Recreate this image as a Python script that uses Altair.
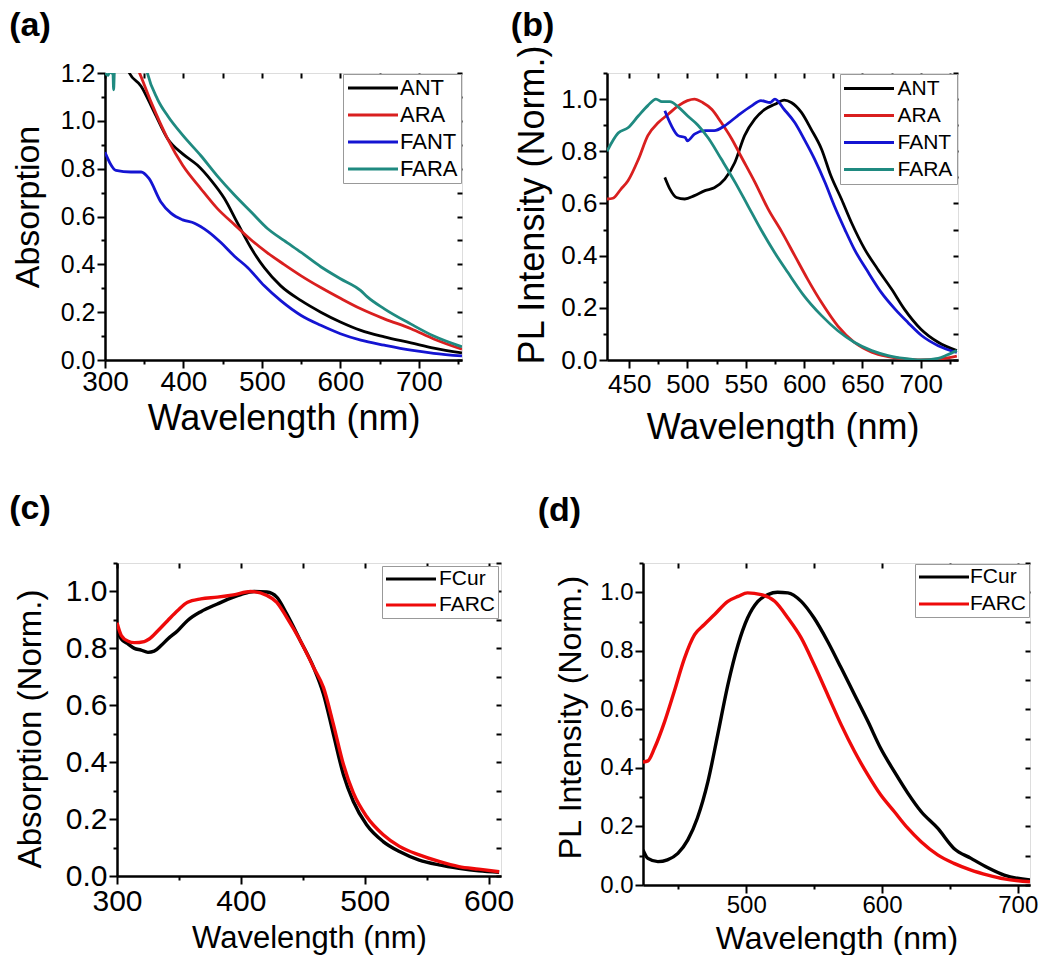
import altair as alt
import pandas as pd

FONT = "Liberation Sans"

# ---------------- Panel (a): Absorption ----------------
a_ant_x = [320, 331, 346, 363, 380, 399, 418, 435, 452, 469, 486, 503, 524, 550, 575, 600, 626, 656, 690, 719, 755]
a_ant_y = [1.3, 1.2, 1.145, 1.034, 0.924, 0.862, 0.814, 0.752, 0.676, 0.572, 0.469, 0.386, 0.31, 0.248, 0.2, 0.159, 0.124, 0.097, 0.072, 0.05, 0.03]
a_ara_x = [330, 344, 359, 380, 399, 422, 443, 465, 486, 507, 528, 550, 575, 600, 626, 656, 690, 719, 755]
a_ara_y = [1.3, 1.2, 1.076, 0.924, 0.814, 0.717, 0.634, 0.566, 0.503, 0.448, 0.40, 0.352, 0.303, 0.258, 0.214, 0.172, 0.131, 0.088, 0.045]
a_fant_x = [300, 314, 333, 346, 356, 371, 384, 399, 414, 431, 448, 465, 482, 503, 524, 550, 575, 600, 626, 656, 690, 719, 755]
a_fant_y = [0.869, 0.793, 0.786, 0.786, 0.759, 0.662, 0.614, 0.586, 0.572, 0.538, 0.49, 0.434, 0.386, 0.31, 0.248, 0.186, 0.145, 0.11, 0.083, 0.062, 0.041, 0.028, 0.017]
a_fara_x = [300, 304, 306, 308, 310, 311, 312, 315, 330, 350, 354, 367, 380, 399, 422, 443, 465, 486, 507, 528, 550, 575, 600, 626, 634, 656, 690, 719, 755]
a_fara_y = [1.2, 1.19, 1.21, 1.2, 1.21, 1.13, 1.21, 1.25, 1.35, 1.26, 1.2, 1.09, 1.02, 0.94, 0.855, 0.77, 0.69, 0.62, 0.55, 0.50, 0.45, 0.39, 0.34, 0.29, 0.265, 0.214, 0.15, 0.10, 0.055]

# ---------------- Panel (b): PL ----------------
b_ant_x = [480.6, 485, 490.6, 497.7, 506, 515, 523, 532, 540.6, 549, 557.7, 566, 575, 583, 589, 597.7, 606, 615, 623, 632, 640.6, 652, 663, 675, 686, 700, 715, 731]
b_ant_y = [0.70, 0.655, 0.623, 0.617, 0.63, 0.649, 0.66, 0.693, 0.757, 0.86, 0.923, 0.96, 0.98, 0.996, 0.987, 0.949, 0.885, 0.808, 0.706, 0.617, 0.527, 0.425, 0.349, 0.272, 0.195, 0.119, 0.068, 0.036]
b_ara_x = [431, 436, 443, 449, 458, 466, 475, 483, 492, 500, 506, 513, 521, 529, 538, 546, 558, 569, 581, 592, 603, 615, 629, 643, 658, 672, 686, 700, 715, 731]
b_ara_y = [0.617, 0.62, 0.655, 0.687, 0.77, 0.86, 0.91, 0.94, 0.974, 0.994, 1.0, 0.987, 0.96, 0.91, 0.847, 0.78, 0.68, 0.58, 0.49, 0.40, 0.31, 0.22, 0.13, 0.068, 0.03, 0.013, 0.004, 0.0, 0.003, 0.015]
b_fant_x = [480.6, 486, 492, 498, 500, 506, 515, 523, 532, 543, 555, 563, 571, 575, 583, 592, 600, 609, 618, 626, 635, 643, 655, 666, 678, 689, 701, 715, 731]
b_fant_y = [0.955, 0.9, 0.86, 0.853, 0.84, 0.866, 0.879, 0.879, 0.898, 0.936, 0.974, 0.994, 0.987, 1.0, 0.96, 0.91, 0.847, 0.77, 0.68, 0.59, 0.50, 0.425, 0.336, 0.26, 0.195, 0.144, 0.093, 0.055, 0.029]
b_fara_x = [431, 440.6, 449, 458, 466, 473, 478, 485, 492, 500, 509, 518, 529, 541, 552, 563, 575, 586, 600, 615, 629, 643, 658, 672, 686, 700, 715, 723, 731]
b_fara_y = [0.80, 0.87, 0.89, 0.936, 0.975, 1.0, 0.99, 0.99, 0.97, 0.936, 0.90, 0.85, 0.77, 0.68, 0.59, 0.50, 0.41, 0.336, 0.246, 0.17, 0.112, 0.068, 0.036, 0.017, 0.006, 0.0, 0.006, 0.02, 0.036]

# ---------------- Panel (c): Absorption (Norm.) ----------------
c_fcur_x = [300, 303.5, 309, 314, 319.5, 325, 330, 335.6, 341, 349, 357, 367.7, 381, 394, 400, 410.5, 421, 429, 437, 448, 458.7, 466.7, 474.7, 482.8, 490.8, 501.5, 514.9, 528, 544, 560, 576, 592, 608.5]
c_fcur_y = [0.862, 0.833, 0.815, 0.80, 0.794, 0.786, 0.79, 0.81, 0.833, 0.862, 0.898, 0.929, 0.956, 0.98, 0.989, 1.0, 0.998, 0.98, 0.921, 0.827, 0.733, 0.639, 0.498, 0.356, 0.262, 0.18, 0.121, 0.086, 0.056, 0.039, 0.027, 0.018, 0.013]
c_farc_x = [300, 303.5, 309, 314, 322, 326, 333, 341, 349, 357, 367.7, 381, 394, 408, 421, 429, 437, 448, 458.7, 466.7, 474.7, 482.8, 490.8, 501.5, 514.9, 528, 544, 560, 576, 592, 608.5]
c_farc_y = [0.89, 0.845, 0.825, 0.82, 0.824, 0.833, 0.862, 0.898, 0.933, 0.962, 0.974, 0.98, 0.988, 1.0, 0.986, 0.962, 0.909, 0.827, 0.733, 0.662, 0.533, 0.392, 0.292, 0.209, 0.145, 0.104, 0.074, 0.051, 0.033, 0.024, 0.015]

# ---------------- Panel (d): PL (Norm.) ----------------
d_fcur_x = [424, 427.6, 435, 442, 449.7, 457, 464, 471.8, 479, 486.5, 494, 501, 508.6, 516, 523, 530.7, 540.5, 550, 560, 570, 579.8, 589.6, 599, 609, 619, 628.8, 641, 653, 665.6, 678, 690, 709]
d_fcur_y = [0.12, 0.091, 0.08, 0.086, 0.108, 0.154, 0.228, 0.353, 0.513, 0.684, 0.821, 0.912, 0.969, 0.992, 1.0, 0.998, 0.969, 0.912, 0.832, 0.741, 0.65, 0.559, 0.467, 0.388, 0.314, 0.251, 0.194, 0.125, 0.091, 0.059, 0.034, 0.017]
d_farc_x = [424, 427.6, 432.5, 440, 447, 454.6, 462, 469, 476.7, 486.5, 494, 501, 511, 521, 530.7, 540.5, 550, 560, 570, 579.8, 589.6, 599, 609, 619, 628.8, 641, 653, 665.6, 678, 690, 709]
d_farc_y = [0.42, 0.424, 0.468, 0.559, 0.661, 0.775, 0.855, 0.889, 0.924, 0.969, 0.986, 0.998, 0.992, 0.969, 0.912, 0.844, 0.753, 0.65, 0.547, 0.456, 0.376, 0.308, 0.251, 0.194, 0.148, 0.103, 0.074, 0.051, 0.034, 0.021, 0.011]

names4 = ["ANT", "ARA", "FANT", "FARA"]
cols4 = ["#000000", "#d91f1f", "#1414d2", "#1f8a80"]
names2 = ["FCur", "FARC"]
cols2 = ["#000000", "#ee0a0a"]


def frame(series):
    rows = []
    for name, xs, ys in series:
        for x, y in zip(xs, ys):
            rows.append({"wl": x, "val": y, "series": name})
    return pd.DataFrame(rows)


def frange(a, b, step):
    out, v = [], a
    while v <= b + 1e-9:
        out.append(round(v, 3))
        v += step
    return out


AX = dict(domainColor="black", domainWidth=2.5, tickColor="black", tickWidth=2,
          labelColor="black", titleColor="black", titleFontWeight="normal",
          labelFont=FONT, titleFont=FONT, grid=False, labelFlush=False,
          labelOverlap=False)
BARE = dict(labels=False, domain=False, title=None, tickColor="black", tickWidth=2,
            grid=False)


def panel(df, names, colors, xdom, ydom, xmaj, xmin, ymaj, ymin, w, h,
          ytitle, label, s):
    xs = alt.Scale(domain=xdom, nice=False, zero=False)
    ys = alt.Scale(domain=ydom, nice=False)
    x_axis = alt.Axis(values=xmaj, title="Wavelength (nm)", orient="bottom", tickSize=8,
                      labelFontSize=s["xl"], titleFontSize=s["xt"],
                      labelPadding=s["xlp"], titlePadding=s["xtp"], **AX)
    y_axis = alt.Axis(values=ymaj, title=ytitle, orient="left", tickSize=8, format=".1f",
                      labelFontSize=s["yl"], titleFontSize=s["yt"],
                      labelPadding=s["ylp"], titlePadding=s["ytp"],
                      titleY=h / 2 + s["ty"], **AX)
    legend = alt.Legend(
        title=None, orient="top-right", offset=s["lo"], strokeColor="#999999",
        fillColor="white", padding=s["lp"], symbolType="M-5,0H5", symbolSize=100,
        symbolStrokeWidth=3, symbolOffset=s["so"], labelOffset=s["lbo"],
        labelFontSize=s["lf"], rowPadding=s["rp"], labelFont=FONT,
        labelColor="black")
    base = alt.Chart(df)
    lines = base.mark_line(clip=True, strokeWidth=s["sw"], interpolate="monotone").encode(
        x=alt.X("wl:Q", scale=xs, axis=x_axis),
        y=alt.Y("val:Q", scale=ys, axis=y_axis),
        color=alt.Color("series:N", scale=alt.Scale(domain=names, range=colors), legend=legend),
        order=alt.Order("wl:Q"),
        detail="series:N",
    )
    # minor outward ticks
    minor = base.mark_point(opacity=0, size=0, clip=True).encode(
        x=alt.X("wl:Q", scale=xs, axis=alt.Axis(values=xmin, orient="bottom", tickSize=4, **BARE)),
        y=alt.Y("val:Q", scale=ys, axis=alt.Axis(values=ymin, orient="left", tickSize=4, **BARE)),
    )
    # inward ticks on top and right edges
    mirror = base.mark_point(opacity=0, size=0, clip=True).encode(
        x=alt.X("wl:Q", scale=xs, axis=alt.Axis(values=sorted(xmaj + xmin), orient="bottom",
                                                  offset=-h, tickSize=5, **BARE)),
        y=alt.Y("val:Q", scale=ys, axis=alt.Axis(values=sorted(ymaj + ymin), orient="left",
                                                   offset=-w, tickSize=5, **BARE)),
    )
    return alt.layer(lines, minor, mirror).resolve_axis(
        x="independent", y="independent").properties(
        width=w, height=h,
        title=alt.TitleParams(text=label, anchor="start", fontSize=34, fontWeight="bold",
                              font=FONT, color="black", offset=s["to"], dx=s["tdx"]))


df_a = frame([("ANT", a_ant_x, a_ant_y), ("ARA", a_ara_x, a_ara_y),
              ("FANT", a_fant_x, a_fant_y), ("FARA", a_fara_x, a_fara_y)])
df_b = frame([("ANT", b_ant_x, b_ant_y), ("ARA", b_ara_x, b_ara_y),
              ("FANT", b_fant_x, b_fant_y), ("FARA", b_fara_x, b_fara_y)])
df_c = frame([("FCur", c_fcur_x, c_fcur_y), ("FARC", c_farc_x, c_farc_y)])
df_d = frame([("FCur", d_fcur_x, d_fcur_y), ("FARC", d_farc_x, d_farc_y)])

pa = panel(df_a, names4, cols4, [300, 755], [0, 1.2],
           frange(300, 700, 100), frange(350, 750, 100),
           frange(0, 1.2, 0.2), frange(0.1, 1.1, 0.2),
           357, 287, "Absorption", "(a)",
           dict(xl=28, xt=36, xlp=0, xtp=5, yl=25, yt=34, ylp=2, ytp=15, ty=-10,
                lo=1, lp=3, so=16, lbo=16, lf=22, rp=5, sw=2.8, to=18, tdx=-2))
pb = panel(df_b, names4, cols4, [431, 732], [0, 1.1],
           frange(450, 700, 50), frange(475, 725, 50),
           frange(0, 1.0, 0.2), frange(0.1, 1.1, 0.2),
           351, 287, "PL Intensity (Norm.)", "(b)",
           dict(xl=26, xt=36, xlp=3, xtp=13, yl=26, yt=36, ylp=2, ytp=9, ty=-12,
                lo=1, lp=4, so=14.5, lbo=18, lf=21, rp=5, sw=2.8, to=1, tdx=-4))
pc = panel(df_c, names2, cols2, [300, 610], [0, 1.1],
           frange(300, 600, 100), frange(350, 550, 100),
           frange(0, 1.0, 0.2), frange(0.1, 1.1, 0.2),
           384, 313, "Absorption (Norm.)", "(c)",
           dict(xl=30, xt=31, xlp=2, xtp=7, yl=30, yt=33, ylp=2, ytp=18, ty=9,
                lo=3, lp=2.5, so=16, lbo=17.5, lf=21, rp=4, sw=3.4, to=36, tdx=-5))
pd_ = panel(df_d, names2, cols2, [424, 709], [0, 1.1],
            frange(500, 700, 100), frange(450, 650, 100),
            frange(0, 1.0, 0.2), frange(0.1, 1.1, 0.2),
            387, 322, "PL Intensity (Norm.)", "(d)",
            dict(xl=24, xt=32, xlp=0, xtp=6.5, yl=24, yt=32, ylp=2, ytp=12, ty=-7,
                 lo=1, lp=2.5, so=16, lbo=15.5, lf=21, rp=5, sw=3.4, to=34, tdx=-17))

spacer = alt.Chart(pd.DataFrame({"v": [0]})).mark_point(opacity=0).encode(
    x=alt.X("v:Q", axis=None), y=alt.Y("v:Q", axis=None)).properties(
    width=12, height=10, view=alt.ViewBackground(stroke=None, strokeWidth=0))

RS = dict(color="independent", x="independent", y="independent")

# with "flush" bounds a nested concat counts as zero-size, so spacings are
# measured from the left/top of the previous nested group
row1 = alt.hconcat(pa, pb, spacing=145, bounds="flush").resolve_scale(**RS).resolve_legend(color="independent")
left2 = alt.hconcat(spacer, pc, spacing=0, bounds="flush").resolve_scale(**RS).resolve_legend(color="independent")
row2 = alt.hconcat(left2, pd_, spacing=538, bounds="flush").resolve_scale(**RS).resolve_legend(color="independent")

chart = alt.vconcat(row1, row2, spacing=490, bounds="flush").resolve_scale(**RS).resolve_legend(
    color="independent").properties(padding=0).configure_view(
    stroke="black", strokeWidth=2.5).configure(font=FONT, background="white")

chart.save("out.html", embed_options={"renderer": "svg", "actions": False})
